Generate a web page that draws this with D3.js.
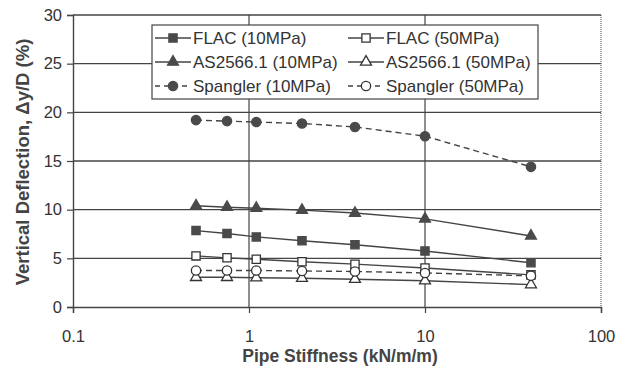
<!DOCTYPE html>
<html>
<head>
<meta charset="utf-8">
<script src="https://cdn.jsdelivr.net/npm/d3@7"></script>
<style>
  body { margin: 0; background: #fff; }
  svg { display: block; font-family: "Liberation Sans", Arial, sans-serif; }
</style>
</head>
<body>
<svg width="628" height="372"></svg>
<script>
// pipe stiffness values (kN/m/m)
const stiffness = [0.5, 0.75, 1.1, 2, 4, 10, 40];
// vertical deflection (%)
const flac10 = [7.85, 7.55, 7.2, 6.8, 6.4, 5.75, 4.55];
const flac50 = [5.25, 5.05, 4.9, 4.65, 4.4, 4.0, 3.3];
const as10 = [10.4, 10.25, 10.15, 9.95, 9.65, 9.05, 7.3];
const as50 = [3.05, 3.05, 3.0, 2.95, 2.85, 2.7, 2.3];
const sp10 = [19.2, 19.1, 19.0, 18.85, 18.5, 17.55, 14.4];
const sp50 = [3.75, 3.75, 3.75, 3.7, 3.65, 3.5, 3.2];

const xTicks = [0.1, 1, 10, 100];
const yTicks = [0, 5, 10, 15, 20, 25, 30];

const series = [
  { name: 'FLAC (10MPa)', values: flac10, shape: 'square', filled: true, dash: null },
  { name: 'FLAC (50MPa)', values: flac50, shape: 'square', filled: false, dash: null },
  { name: 'AS2566.1 (10MPa)', values: as10, shape: 'triangle', filled: true, dash: null },
  { name: 'AS2566.1 (50MPa)', values: as50, shape: 'triangle', filled: false, dash: null },
  { name: 'Spangler (10MPa)', values: sp10, shape: 'circle', filled: true, dash: '6,4' },
  { name: 'Spangler (50MPa)', values: sp50, shape: 'circle', filled: false, dash: '6,4' }
];

const margin = { left: 73, top: 15 };
const inner = { w: 528, h: 292 };
const ink = '#444';

const svg = d3.select('svg');
const g = svg.append('g')
  .attr('transform', 'translate(' + margin.left + ',' + margin.top + ')');

const x = d3.scaleLog().domain([0.1, 100]).range([0, inner.w]);
const y = d3.scaleLinear().domain([0, 30]).range([inner.h, 0]);

// horizontal gridlines
g.selectAll('.hgrid')
  .data(yTicks.filter(d => d > 0))
  .enter().append('line')
  .attr('x1', 0).attr('x2', inner.w)
  .attr('y1', d => y(d)).attr('y2', d => y(d))
  .attr('stroke', ink).attr('stroke-width', 1.3);

// vertical gridlines
g.selectAll('.vgrid')
  .data([1, 10])
  .enter().append('line')
  .attr('x1', d => x(d)).attr('x2', d => x(d))
  .attr('y1', 0).attr('y2', inner.h)
  .attr('stroke', ink).attr('stroke-width', 1.2);

// right border dotted
g.append('line')
  .attr('x1', x(100)).attr('x2', x(100))
  .attr('y1', 0).attr('y2', inner.h)
  .attr('stroke', ink).attr('stroke-width', 1)
  .attr('stroke-dasharray', '1,1');

// y axis
const yAxis = g.append('g')
  .call(d3.axisLeft(y).tickValues(yTicks).tickSize(6).tickPadding(5));
yAxis.select('.domain').attr('stroke', ink).attr('stroke-width', 1.4);
yAxis.selectAll('.tick line').attr('stroke', ink).attr('stroke-width', 1.2);
yAxis.selectAll('text').style('font-size', '16.5px').attr('fill', '#333');

// x axis
const xAxis = g.append('g')
  .attr('transform', 'translate(0,' + inner.h + ')')
  .call(d3.axisBottom(x).tickValues(xTicks).tickFormat(d3.format('~g')).tickSize(6).tickPadding(17));
xAxis.select('.domain').attr('stroke', ink).attr('stroke-width', 1.4);
xAxis.selectAll('.tick line').attr('stroke', ink).attr('stroke-width', 1.2);
xAxis.selectAll('text').style('font-size', '16.5px').attr('fill', '#333');

// marker drawing
const symbolType = { square: d3.symbolSquare, triangle: d3.symbolTriangle, circle: d3.symbolCircle };
const symbolSize = { square: 68, triangle: 52, circle: 68 };
function drawMarker(sel, s) {
  sel.append('path')
    .attr('d', d3.symbol().type(symbolType[s.shape]).size(symbolSize[s.shape]))
    .attr('fill', s.filled ? '#4a4a4a' : '#fff')
    .attr('stroke', s.filled ? '#4a4a4a' : '#333')
    .attr('stroke-width', 1.3);
}

const line = d3.line()
  .x((d, i) => x(stiffness[i]))
  .y(d => y(d));

// lines first, then markers
series.forEach(s => {
  g.append('path')
    .datum(s.values)
    .attr('d', line)
    .attr('fill', 'none')
    .attr('stroke', ink)
    .attr('stroke-width', 1.4)
    .attr('stroke-dasharray', s.dash);
});

series.forEach(s => {
  const pts = g.selectAll(null)
    .data(s.values)
    .enter().append('g')
    .attr('transform', (d, i) => 'translate(' + x(stiffness[i]) + ',' + y(d) + ')');
  drawMarker(pts, s);
});

// legend
const legend = svg.append('g').attr('transform', 'translate(152,25)');
legend.append('rect')
  .attr('width', 386).attr('height', 74)
  .attr('fill', '#fff')
  .attr('stroke', ink).attr('stroke-width', 1.2);

series.forEach((s, i) => {
  const col = i % 2, row = Math.floor(i / 2);
  const lx = col === 0 ? 3 : 196;
  const ly = 13 + row * 24;
  const item = legend.append('g').attr('transform', 'translate(' + lx + ',' + ly + ')');
  item.append('line')
    .attr('x1', 0).attr('x2', 36)
    .attr('y1', 0).attr('y2', 0)
    .attr('stroke', ink).attr('stroke-width', 1.4)
    .attr('stroke-dasharray', s.dash ? '5,4' : null);
  const m = item.append('g').attr('transform', 'translate(18,0)');
  drawMarker(m, s);
  item.append('text')
    .attr('x', 38).attr('y', 6)
    .style('font-size', '17px')
    .attr('fill', '#333')
    .text(s.name);
});

// axis titles
svg.append('text')
  .attr('text-anchor', 'middle')
  .attr('x', 340).attr('y', 362)
  .style('font-size', '17.5px')
  .style('font-weight', 'bold')
  .attr('fill', '#444')
  .text('Pipe Stiffness (kN/m/m)');

svg.append('text')
  .attr('text-anchor', 'middle')
  .attr('transform', 'translate(29,162) rotate(-90)')
  .style('font-size', '18.5px')
  .style('font-weight', 'bold')
  .attr('fill', '#444')
  .text('Vertical Deflection, \u0394y/D (%)');
</script>
</body>
</html>
